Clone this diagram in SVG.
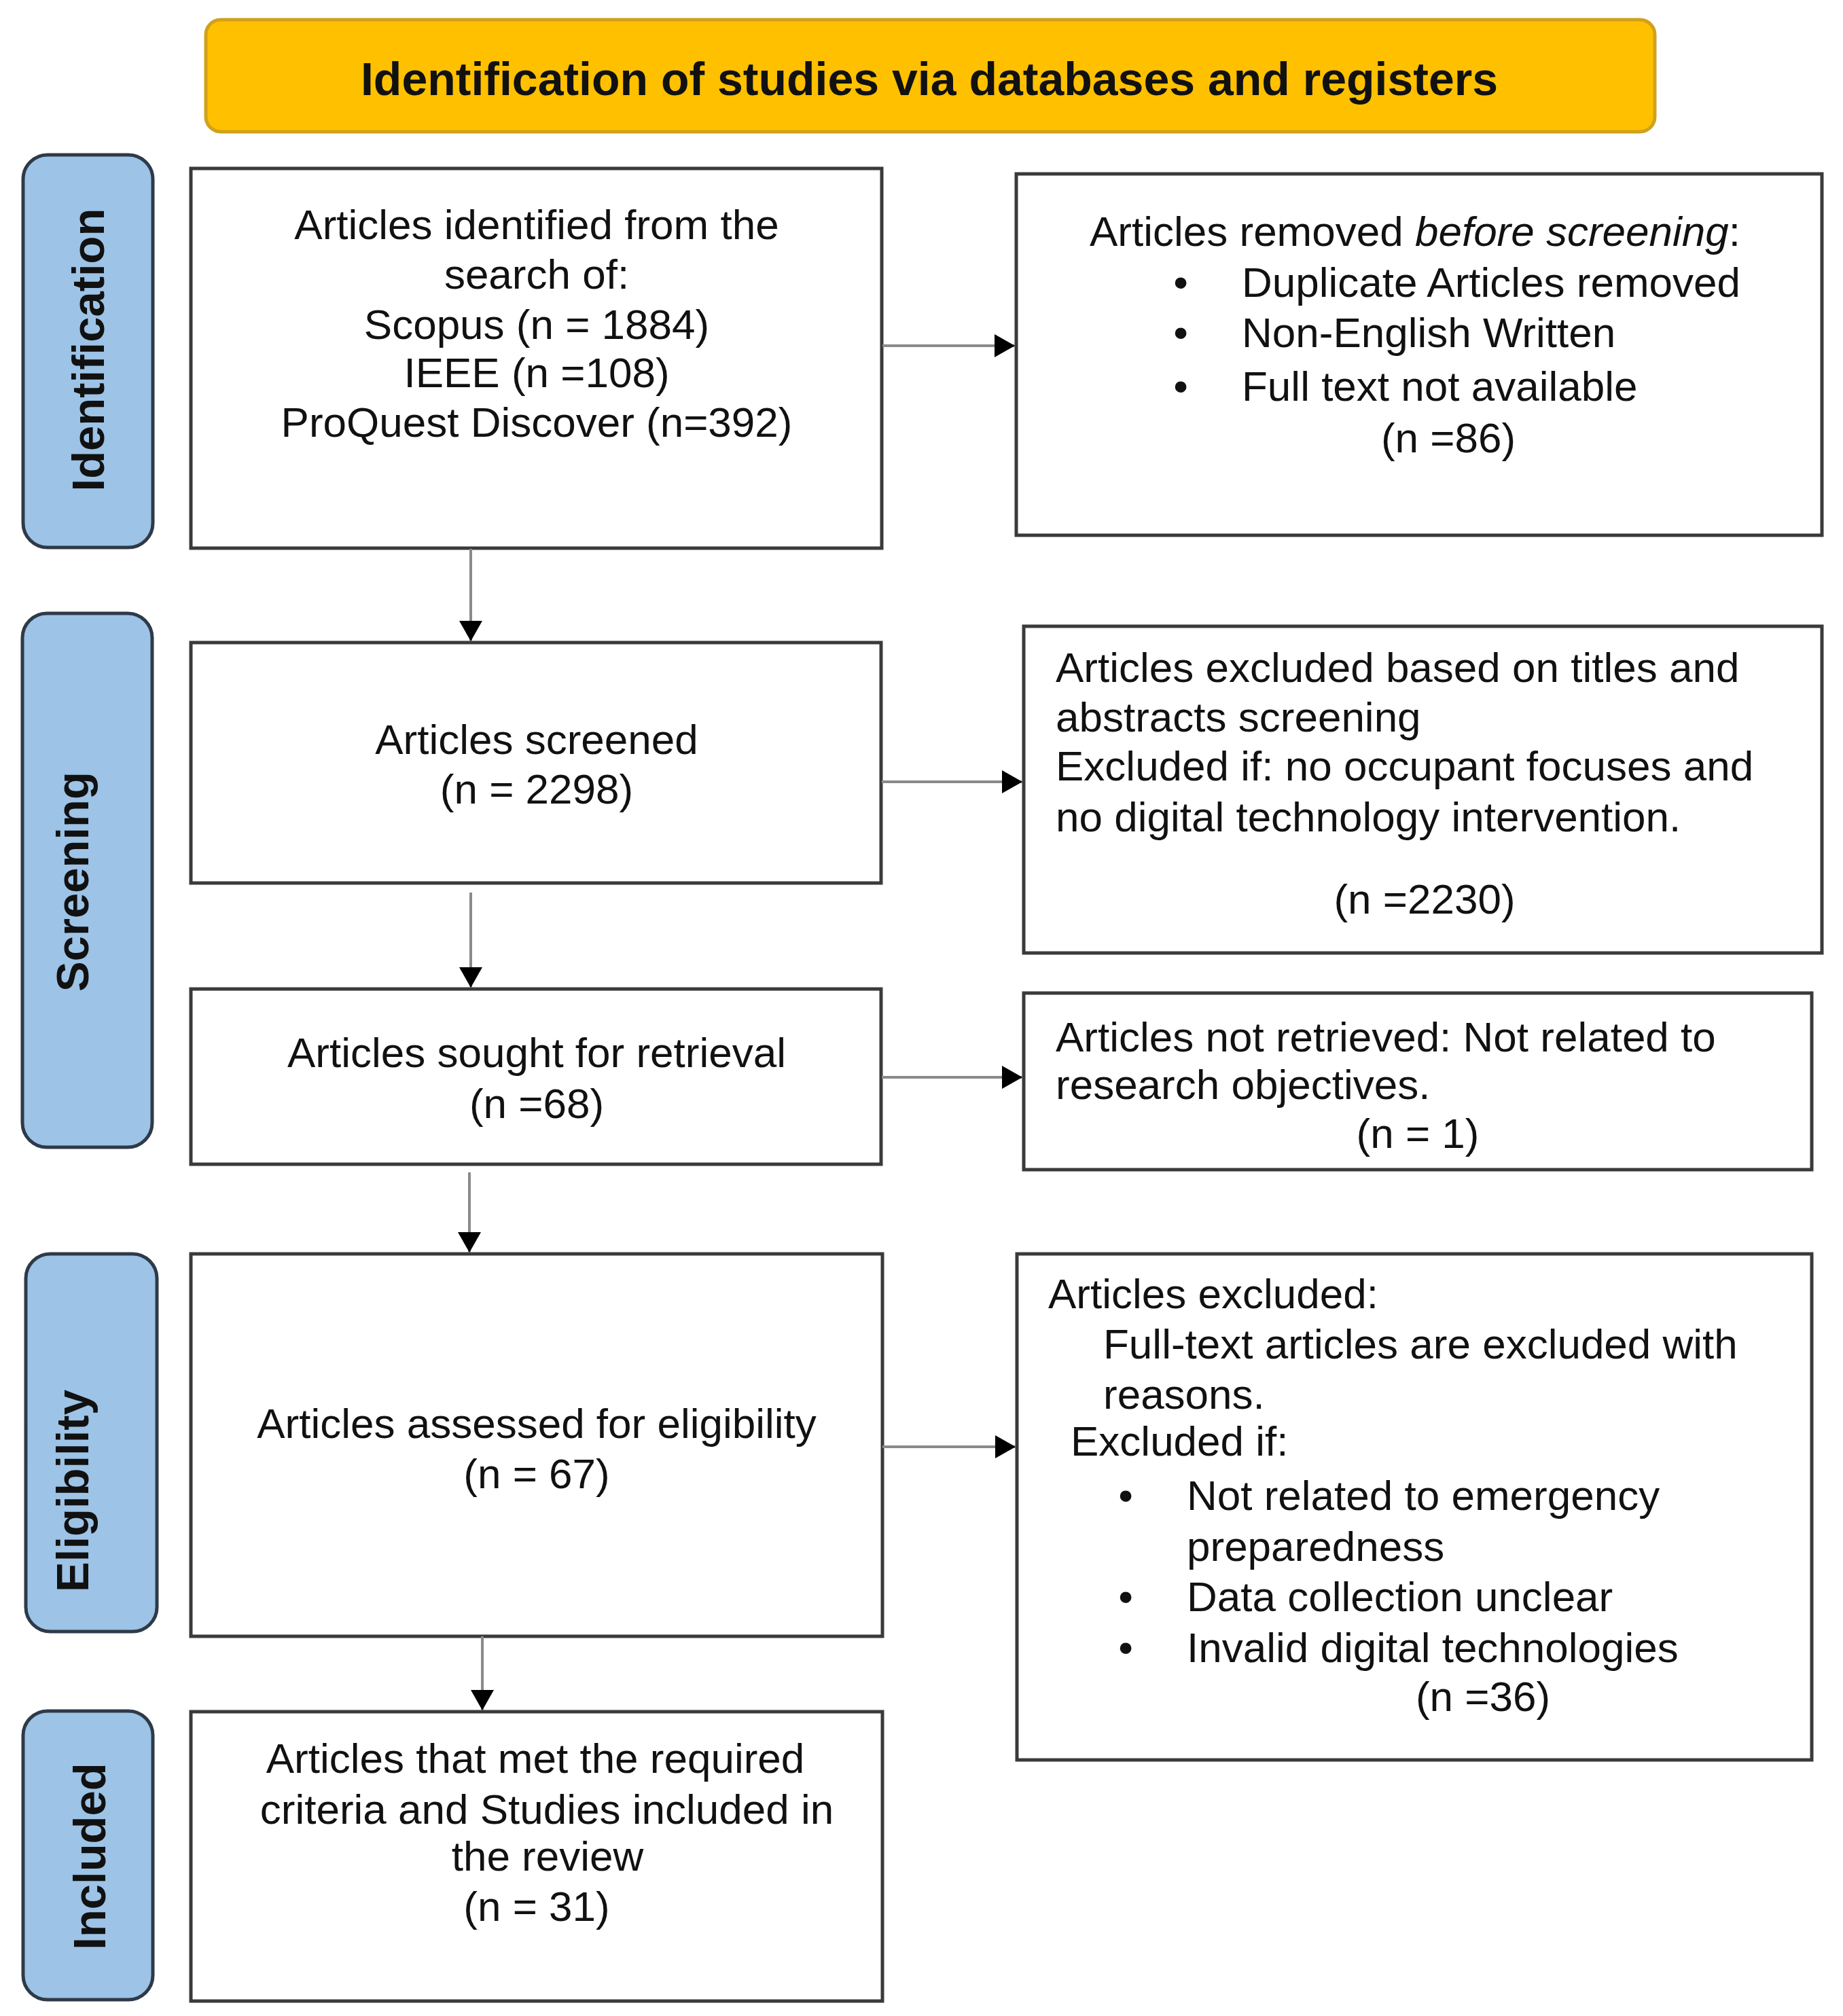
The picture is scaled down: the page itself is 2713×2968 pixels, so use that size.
<svg xmlns="http://www.w3.org/2000/svg" width="2713" height="2968" viewBox="0 0 2713 2968">
<style>
  .box{fill:#ffffff;stroke:#3a3a3a;stroke-width:5}
  .lab{fill:#9dc3e6;stroke:#2e3a48;stroke-width:5}
  .t{font-family:"Liberation Sans",Arial,sans-serif;font-size:62px;fill:#111}
  .c{text-anchor:middle}
  .lt{font-family:"Liberation Sans",Arial,sans-serif;font-size:67px;font-weight:bold;fill:#111;text-anchor:middle}
  .conn{stroke:#8a8a8a;stroke-width:4;fill:none}
</style>
<defs>
  <marker id="ah" viewBox="0 0 30 34" refX="30" refY="17" markerWidth="30" markerHeight="34" markerUnits="userSpaceOnUse" orient="auto">
    <path d="M0,0 L30,17 L0,34 z" fill="#000"/>
  </marker>
</defs>
<rect width="2713" height="2968" fill="#ffffff"/>

<g id="title">
  <rect x="303" y="29" width="2133" height="165" rx="22" fill="#ffc000" stroke="#d1a11c" stroke-width="5"/>
  <text x="1368" y="140" font-family="Liberation Sans,Arial,sans-serif" font-size="68" font-weight="bold" text-anchor="middle" fill="#111">Identification of studies via databases and registers</text>
</g>

<g id="label-identification">
  <rect class="lab" x="34" y="228" width="191" height="578" rx="36"/>
  <text class="lt" transform="translate(153,515) rotate(-90)">Identification</text>
</g>
<g id="label-screening">
  <rect class="lab" x="33" y="903" width="191" height="786" rx="36"/>
  <text class="lt" transform="translate(130,1298) rotate(-90)">Screening</text>
</g>
<g id="label-eligibility">
  <rect class="lab" x="38" y="1846" width="193" height="556" rx="36"/>
  <text class="lt" transform="translate(130,2195) rotate(-90)">Eligibility</text>
</g>
<g id="label-included">
  <rect class="lab" x="34" y="2519" width="191" height="425" rx="36"/>
  <text class="lt" transform="translate(155,2733) rotate(-90)">Included</text>
</g>

<g id="box-identified">
  <rect class="box" x="281" y="248" width="1017" height="559"/>
  <text class="t c" x="790" y="352">Articles identified from the</text>
  <text class="t c" x="790" y="425">search of:</text>
  <text class="t c" x="790" y="499">Scopus (n = 1884)</text>
  <text class="t c" x="790" y="570">IEEE (n =108)</text>
  <text class="t c" x="790" y="643">ProQuest Discover (n=392)</text>
</g>

<g id="box-removed">
  <rect class="box" x="1496" y="256" width="1186" height="532"/>
  <text class="t" x="1604" y="362">Articles removed <tspan font-style="italic">before screening</tspan>:</text>
  <text class="t c" x="1738" y="437">•</text>
  <text class="t" x="1828" y="437">Duplicate Articles removed</text>
  <text class="t c" x="1738" y="511">•</text>
  <text class="t" x="1828" y="511">Non-English Written</text>
  <text class="t c" x="1738" y="590">•</text>
  <text class="t" x="1828" y="590">Full text not available</text>
  <text class="t c" x="2132" y="666">(n =86)</text>
</g>

<g id="box-screened">
  <rect class="box" x="281" y="946" width="1016" height="354"/>
  <text class="t c" x="790" y="1110">Articles screened</text>
  <text class="t c" x="790" y="1183">(n = 2298)</text>
</g>

<g id="box-excluded-titles">
  <rect class="box" x="1507" y="922" width="1175" height="481"/>
  <text class="t" x="1554" y="1004">Articles excluded based on titles and</text>
  <text class="t" x="1554" y="1077">abstracts screening</text>
  <text class="t" x="1554" y="1149">Excluded if: no occupant focuses and</text>
  <text class="t" x="1554" y="1224">no digital technology intervention.</text>
  <text class="t c" x="2097" y="1345">(n =2230)</text>
</g>

<g id="box-sought">
  <rect class="box" x="281" y="1456" width="1016" height="258"/>
  <text class="t c" x="790" y="1571">Articles sought for retrieval</text>
  <text class="t c" x="790" y="1646">(n =68)</text>
</g>

<g id="box-not-retrieved">
  <rect class="box" x="1507" y="1462" width="1160" height="260"/>
  <text class="t" x="1554" y="1548">Articles not retrieved: Not related to</text>
  <text class="t" x="1554" y="1618">research objectives.</text>
  <text class="t c" x="2087" y="1690">(n = 1)</text>
</g>

<g id="box-assessed">
  <rect class="box" x="281" y="1846" width="1018" height="563"/>
  <text class="t c" x="790" y="2117">Articles assessed for eligibility</text>
  <text class="t c" x="790" y="2191">(n = 67)</text>
</g>

<g id="box-excluded-fulltext">
  <rect class="box" x="1497" y="1846" width="1170" height="745"/>
  <text class="t" x="1543" y="1926">Articles excluded:</text>
  <text class="t" x="1624" y="2000">Full-text articles are excluded with</text>
  <text class="t" x="1624" y="2074">reasons.</text>
  <text class="t" x="1576" y="2143">Excluded if:</text>
  <text class="t c" x="1657" y="2223">•</text>
  <text class="t" x="1747" y="2223">Not related to emergency</text>
  <text class="t" x="1747" y="2298">preparedness</text>
  <text class="t c" x="1657" y="2372">•</text>
  <text class="t" x="1747" y="2372">Data collection unclear</text>
  <text class="t c" x="1657" y="2447">•</text>
  <text class="t" x="1747" y="2447">Invalid digital technologies</text>
  <text class="t c" x="2183" y="2519">(n =36)</text>
</g>

<g id="box-included">
  <rect class="box" x="281" y="2520" width="1018" height="426"/>
  <text class="t c" x="788" y="2610">Articles that met the required</text>
  <text class="t c" x="805" y="2685">criteria and Studies included in</text>
  <text class="t c" x="806" y="2754">the review</text>
  <text class="t c" x="790" y="2828">(n = 31)</text>
</g>

<g id="connectors">
  <path class="conn" d="M1299 509 H1494" marker-end="url(#ah)"/>
  <path class="conn" d="M693 808 V944" marker-end="url(#ah)"/>
  <path class="conn" d="M1298 1151 H1505" marker-end="url(#ah)"/>
  <path class="conn" d="M693 1314 V1454" marker-end="url(#ah)"/>
  <path class="conn" d="M1298 1586 H1505" marker-end="url(#ah)"/>
  <path class="conn" d="M691 1726 V1844" marker-end="url(#ah)"/>
  <path class="conn" d="M1299 2130 H1495" marker-end="url(#ah)"/>
  <path class="conn" d="M710 2409 V2518" marker-end="url(#ah)"/>
</g>
</svg>
